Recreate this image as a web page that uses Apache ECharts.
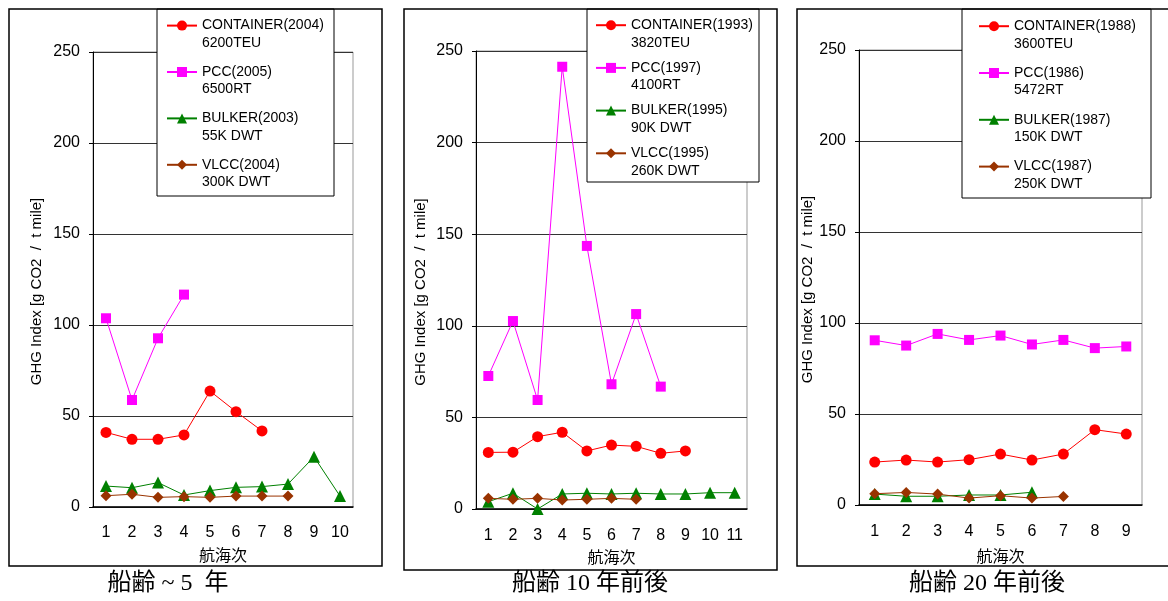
<!DOCTYPE html>
<html><head><meta charset="utf-8">
<script src="https://cdn.jsdelivr.net/npm/echarts@6/dist/echarts.min.js"></script>
<style>html,body{margin:0;padding:0;background:#fff}#c{width:1168px;height:601px}</style>
</head><body><div id="c"></div>
<script>
// ---- data ----
const yTickInterval = 50;
const yMax = 250;
const voyages1 = ['1','2','3','4','5','6','7','8','9','10'];
const voyages2 = ['1','2','3','4','5','6','7','8','9','10','11'];
const voyages3 = ['1','2','3','4','5','6','7','8','9'];

const p1Names = ['CONTAINER(2004)\n6200TEU','PCC(2005)\n6500RT','BULKER(2003)\n55K DWT','VLCC(2004)\n300K DWT'];
const p1Container = [41.0, 37.2, 37.2, 39.6, 63.7, 52.4, 41.8];
const p1Pcc = [103.7, 58.8, 92.7, 116.7];
const p1Bulker = [11.5, 10.6, 13.4, 6.6, 9.0, 10.8, 11.2, 12.6, 27.6, 6.0];
const p1Vlcc = [6.2, 7.0, 5.3, 5.7, 5.3, 6.0, 6.0, 6.0];

const p2Names = ['CONTAINER(1993)\n3820TEU','PCC(1997)\n4100RT','BULKER(1995)\n90K DWT','VLCC(1995)\n260K DWT'];
const p2Container = [30.9, 31.0, 39.5, 41.9, 31.7, 34.9, 34.2, 30.4, 31.7];
const p2Pcc = [72.6, 102.6, 59.5, 241.4, 143.6, 68.1, 106.4, 66.8];
const p2Bulker = [4.0, 8.6, 0.0, 8.2, 8.6, 8.2, 8.6, 8.2, 8.2, 8.9, 8.9];
const p2Vlcc = [5.8, 5.3, 5.8, 4.9, 5.3, 5.8, 5.3];

const p3Names = ['CONTAINER(1988)\n3600TEU','PCC(1986)\n5472RT','BULKER(1987)\n150K DWT','VLCC(1987)\n250K DWT'];
const p3Container = [23.6, 24.7, 23.6, 24.9, 28.0, 24.7, 28.0, 41.4, 39.0];
const p3Pcc = [90.5, 87.6, 94.0, 90.7, 93.1, 88.2, 90.7, 86.2, 87.1];
const p3Bulker = [6.0, 4.8, 4.8, 5.5, 5.5, 7.0];
const p3Vlcc = [6.2, 6.9, 6.0, 3.8, 5.1, 3.8, 4.7];

const yName = 'GHG Index [g CO2  /  t mile]';
const xName = '航海次';
const subtitles = ['船齢 ~ 5  年', '船齢 10 年前後', '船齢 20 年前後'];

// ---- styling / layout ----
const styles = [
  {color:'#FF0000', symbol:'circle', size:11},
  {color:'#FF00FF', symbol:'rect', size:10},
  {color:'#008000', symbol:'triangle', size:12},
  {color:'#993300', symbol:'diamond', size:11}
];
const panels = [
  {cats:voyages1, names:p1Names, data:[p1Container,p1Pcc,p1Bulker,p1Vlcc],
   grid:{left:93, top:52, width:260, height:455}, nameGap:49, xLabelMargin:18, xNameGap:40,
   legend:{left:166, top:1.0, gap:-2.8}, legendBox:[157,9,177,187], frame:[9,9,373,557], sub:[168,572]},
  {cats:voyages2, names:p2Names, data:[p2Container,p2Pcc,p2Bulker,p2Vlcc],
   grid:{left:476, top:51, width:271, height:458}, nameGap:48, xLabelMargin:19, xNameGap:40,
   legend:{left:595, top:0.6, gap:-6.5}, legendBox:[587,9,172,173], frame:[404,9,373,561], sub:[590,572]},
  {cats:voyages3, names:p3Names, data:[p3Container,p3Pcc,p3Bulker,p3Vlcc],
   grid:{left:859, top:50, width:283, height:455}, nameGap:38, xLabelMargin:19, xNameGap:43,
   legend:{left:978, top:1.6, gap:-2.4}, legendBox:[962,9,189,189], frame:[797,9,380,557], sub:[987,572]}
];

const sans = "'Liberation Sans', Arial, 'Noto Sans CJK JP', sans-serif";
const LH = 17.6;
const grids = [], xAxes = [], yAxes = [], series = [], legends = [], titles = [], graphics = [];
panels.forEach((p, i) => {
  grids.push(Object.assign({show:true, borderColor:'#999', borderWidth:1, backgroundColor:'transparent'}, p.grid));
  xAxes.push({
    type:'category', gridIndex:i, data:p.cats, boundaryGap:true,
    name:xName, nameLocation:'middle', nameGap:p.xNameGap,
    nameTextStyle:{fontSize:16, color:'#000', fontFamily:"'Noto Sans CJK JP', sans-serif"},
    axisLine:{lineStyle:{color:'#000', width:1.5}},
    axisTick:{inside:true, length:6, lineStyle:{color:'#000'}},
    axisLabel:{fontSize:16, color:'#000', margin:p.xLabelMargin, fontFamily:sans, interval:0},
    splitLine:{show:false}
  });
  yAxes.push({
    type:'value', gridIndex:i, min:0, max:yMax, interval:yTickInterval,
    name:yName, nameLocation:'middle', nameRotate:90, nameGap:p.nameGap,
    nameTextStyle:{fontSize:15, color:'#000', fontFamily:sans, padding:[0,24,0,0]},
    axisLine:{show:true, lineStyle:{color:'#000', width:1}},
    axisTick:{show:true, inside:false, length:4, lineStyle:{color:'#000'}},
    axisLabel:{fontSize:16, color:'#000', margin:13, fontFamily:sans},
    splitLine:{show:true, lineStyle:{color:'#333', width:1}}
  });
  p.names.forEach((nm, k) => {
    const s = styles[k];
    series.push({
      type:'line', name:nm, xAxisIndex:i, yAxisIndex:i, data:p.data[k],
      symbol:s.symbol, symbolSize:s.size, showSymbol:true,
      lineStyle:{color:s.color, width:1}, itemStyle:{color:s.color},
      z:2+k
    });
  });
  legends.push({
    data:p.names, orient:'vertical', left:p.legend.left, top:p.legend.top,
    itemGap:p.legend.gap, itemWidth:30, itemHeight:12.5, padding:0,
    selectedMode:false,
    formatter: function (name) {
      const parts = name.split('\n');
      return '{e| }\n{a|' + parts[0] + '}\n{b|' + parts[1] + '}';
    },
    textStyle:{fontSize:14, color:'#000', fontFamily:sans,
      rich:{
        e:{fontSize:14, fontFamily:sans, color:'#000', lineHeight:LH},
        a:{fontSize:14, fontFamily:sans, color:'#000', lineHeight:LH},
        b:{fontSize:14, fontFamily:sans, color:'#000', lineHeight:LH}
      }}
  });
  titles.push({
    text:subtitles[i], left:p.sub[0], top:p.sub[1], textAlign:'center', padding:0,
    textStyle:{fontSize:24, fontWeight:'normal', color:'#000', fontFamily:"'Liberation Serif', 'Noto Sans CJK JP', serif"}
  });
  graphics.push({type:'rect', shape:{x:p.legendBox[0], y:p.legendBox[1], width:p.legendBox[2], height:p.legendBox[3]},
    style:{fill:'#fff', stroke:'#000', lineWidth:1}, z:3});
  graphics.push({type:'rect', shape:{x:p.frame[0], y:p.frame[1], width:p.frame[2], height:p.frame[3]},
    style:{fill:null, stroke:'#000', lineWidth:1.5}, z:10});
});

const chart = echarts.init(document.getElementById('c'), null, {renderer:'canvas'});
chart.setOption({
  animation:false,
  backgroundColor:'#fff',
  title:titles, grid:grids, xAxis:xAxes, yAxis:yAxes, series:series, legend:legends,
  graphic:graphics
});
</script></body></html>
